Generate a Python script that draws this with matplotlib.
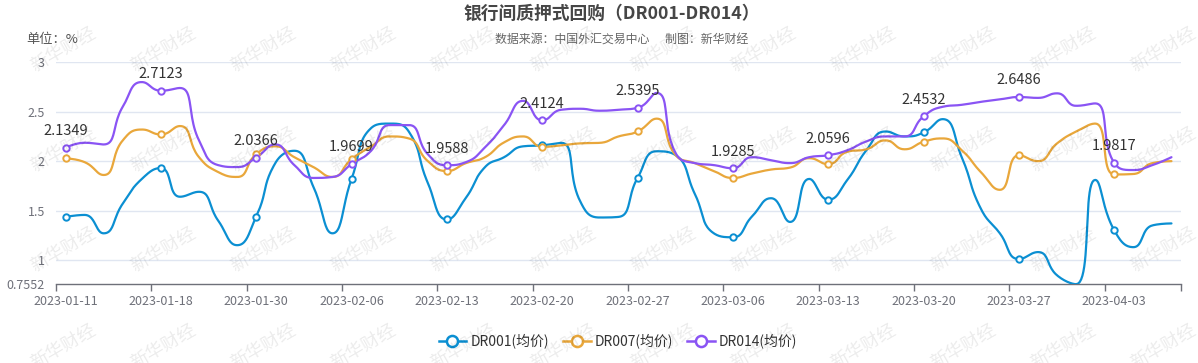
import numpy as np
import matplotlib
matplotlib.use('Agg')
import matplotlib.pyplot as plt
from matplotlib.lines import Line2D

plt.rcParams['font.family'] = ['Noto Sans CJK SC', 'DejaVu Sans']

dates = ['2023-01-11', '2023-01-12', '2023-01-13', '2023-01-16', '2023-01-17',
         '2023-01-18', '2023-01-19', '2023-01-20', '2023-01-28', '2023-01-29',
         '2023-01-30', '2023-01-31', '2023-02-01', '2023-02-02', '2023-02-03',
         '2023-02-06', '2023-02-07', '2023-02-08', '2023-02-09', '2023-02-10',
         '2023-02-13', '2023-02-14', '2023-02-15', '2023-02-16', '2023-02-17',
         '2023-02-20', '2023-02-21', '2023-02-22', '2023-02-23', '2023-02-24',
         '2023-02-27', '2023-02-28', '2023-03-01', '2023-03-02', '2023-03-03',
         '2023-03-06', '2023-03-07', '2023-03-08', '2023-03-09', '2023-03-10',
         '2023-03-13', '2023-03-14', '2023-03-15', '2023-03-16', '2023-03-17',
         '2023-03-20', '2023-03-21', '2023-03-22', '2023-03-23', '2023-03-24',
         '2023-03-27', '2023-03-28', '2023-03-29', '2023-03-30', '2023-03-31',
         '2023-04-03', '2023-04-04', '2023-04-06', '2023-04-07']

dr001 = [1.436, 1.456, 1.27, 1.57, 1.82, 1.93, 1.64, 1.69, 1.40, 1.15,
         1.44, 1.98, 2.105, 1.74, 1.27, 1.82, 2.33, 2.38, 2.30, 1.78,
         1.41, 1.63, 1.94, 2.04, 2.15, 2.16, 2.185, 1.59, 1.43, 1.436,
         1.83, 2.10, 2.06, 1.67, 1.27, 1.23, 1.44, 1.625, 1.385, 1.82,
         1.61, 1.81, 2.11, 2.30, 2.25, 2.29, 2.425, 2.04, 1.52, 1.27,
         1.01, 1.08, 0.845, 0.7552, 1.81, 1.30, 1.13, 1.35, 1.37]

dr007 = [2.027, 1.99, 1.86, 2.21, 2.32, 2.27, 2.355, 2.04, 1.89, 1.84,
         2.07, 2.15, 2.04, 1.94, 1.84, 2.02, 2.145, 2.25, 2.23, 2.00,
         1.90, 1.98, 2.04, 2.19, 2.25, 2.145, 2.16, 2.18, 2.185, 2.25,
         2.30, 2.43, 2.06, 1.98, 1.90, 1.83, 1.875, 1.915, 1.935, 2.03,
         1.97, 2.095, 2.12, 2.21, 2.12, 2.196, 2.23, 2.11, 1.89, 1.71,
         2.06, 2.00, 2.18, 2.30, 2.38, 1.865, 1.87, 1.98, 2.00]

dr014 = [2.1349, 2.186, 2.169, 2.55, 2.80, 2.7123, 2.74, 2.21, 1.96, 1.94,
         2.0366, 2.169, 1.96, 1.83, 1.84, 1.9699, 2.10, 2.365, 2.365, 2.07,
         1.9588, 1.99, 2.14, 2.365, 2.61, 2.4124, 2.52, 2.53, 2.51, 2.52,
         2.5395, 2.69, 2.08, 1.98, 1.96, 1.9285, 2.04, 2.01, 1.98, 2.04,
         2.0596, 2.11, 2.20, 2.25, 2.25, 2.4532, 2.55, 2.57, 2.60, 2.625,
         2.6486, 2.64, 2.686, 2.56, 2.584, 1.9817, 1.91, 1.96, 2.04]

series_names = ['DR001(均价)', 'DR007(均价)', 'DR014(均价)']
colors = ['#0b8fd2', '#e9a73b', '#8a54f4']

W, H = 1198, 363
PX_X = 19.05   # px per category
PX_Y = 98.8    # px per unit


def smooth_curve(xs, ys, smooth=0.5, n=24):
    # echarts-like smooth line, computed in pixel space
    px = [x * PX_X for x in xs]
    py = [y * PX_Y for y in ys]
    out_x, out_y = [px[0]], [py[0]]
    cpx0, cpy0 = px[0], py[0]
    N = len(px)
    for i in range(1, N):
        x, y = px[i], py[i]
        prevX, prevY = px[i - 1], py[i - 1]
        if i == N - 1:
            cpx1, cpy1 = x, y
            ncx, ncy = x, y
        else:
            nextX, nextY = px[i + 1], py[i + 1]
            vx, vy = nextX - prevX, nextY - prevY
            lp = np.hypot(x - prevX, y - prevY)
            ln = np.hypot(nextX - x, nextY - y)
            r = ln / (ln + lp)
            ncx = x + vx * smooth * r
            ncy = y + vy * smooth * r
            ncx = min(ncx, max(nextX, x)); ncx = max(ncx, min(nextX, x))
            ncy = min(ncy, max(nextY, y)); ncy = max(ncy, min(nextY, y))
            vx, vy = ncx - x, ncy - y
            cpx1 = x - vx * lp / ln
            cpy1 = y - vy * lp / ln
            cpx1 = min(cpx1, max(prevX, x)); cpx1 = max(cpx1, min(prevX, x))
            cpy1 = min(cpy1, max(prevY, y)); cpy1 = max(cpy1, min(prevY, y))
            vx, vy = x - cpx1, y - cpy1
            ncx = x + vx * ln / lp
            ncy = y + vy * ln / lp
        t = np.linspace(0, 1, n)[1:]
        bx = (1 - t) ** 3 * prevX + 3 * (1 - t) ** 2 * t * cpx0 + 3 * (1 - t) * t ** 2 * cpx1 + t ** 3 * x
        by = (1 - t) ** 3 * prevY + 3 * (1 - t) ** 2 * t * cpy0 + 3 * (1 - t) * t ** 2 * cpy1 + t ** 3 * y
        out_x.extend(bx); out_y.extend(by)
        cpx0, cpy0 = ncx, ncy
    return np.array(out_x) / PX_X, np.array(out_y) / PX_Y


fig = plt.figure(figsize=(W / 100, H / 100), dpi=100)
ax = fig.add_axes([56 / W, 1 - 284.2 / H, (1181 - 56) / W, (284.2 - 62.3) / H])

idx = np.arange(len(dates))
mark_idx = idx[::5]
for vals, color in zip([dr001, dr007, dr014], colors):
    sx, sy = smooth_curve(idx, vals)
    ax.plot(sx, sy, color=color, lw=1.6, zorder=3, solid_capstyle='round')
    ax.plot(mark_idx, np.array(vals)[mark_idx], ls='none', marker='o', ms=4.6,
            mfc='white', mec=color, mew=1.4, zorder=4)

for i in mark_idx:
    ax.annotate(f'{dr014[i]:.4f}', (i, dr014[i]), xytext=(0, 12), textcoords='offset points',
                ha='center', va='center', fontsize=10.5, color='#333333', zorder=5)

ax.set_xlim(-0.5, len(dates) - 0.5)
ax.set_ylim(0.7552, 3)
ax.set_yticks([0.7552, 1, 1.5, 2, 2.5, 3])
ax.set_yticklabels(['0.7552', '1', '1.5', '2', '2.5', '3'])
for v in [1, 1.5, 2, 2.5, 3]:
    ax.axhline(v, color='#e0e6f1', lw=1, zorder=1)

bounds = list(np.arange(-0.5, len(dates), 5)) + [len(dates) - 0.5]
ax.set_xticks(bounds)
ax.set_xticklabels([])
ax.set_xticks(mark_idx, minor=True)
ax.set_xticklabels([dates[i] for i in mark_idx], minor=True)
ax.tick_params(axis='x', which='major', length=5, width=1, color='#6e7079', direction='out')
ax.tick_params(axis='x', which='minor', length=0, pad=8, labelsize=9, labelcolor='#6e7079')
ax.tick_params(axis='y', length=0, pad=8, labelsize=9, labelcolor='#6e7079')

for s in ['top', 'right', 'left']:
    ax.spines[s].set_visible(False)
ax.spines['bottom'].set_color('#6e7079')
ax.spines['bottom'].set_linewidth(1)

fig.text(612 / W, 1 - 14 / H, '银行间质押式回购（DR001-DR014）', ha='center', va='center',
         fontsize=12.8, fontweight='bold', color='#464646')
fig.text(622 / W, 1 - 40 / H, '数据来源：中国外汇交易中心      制图：新华财经', ha='center', va='center',
         fontsize=8.6, color='#666666')
fig.text(26 / W, 1 - 40 / H, '单位：%', ha='left', va='center', fontsize=9.5, color='#555555')

handles = [Line2D([], [], color=c, lw=1.8, marker='o', ms=8, mfc='white', mec=c, mew=1.8)
           for c in colors]
fig.legend(handles, series_names, loc='center', bbox_to_anchor=(618 / W, 1 - 341 / H), ncol=3,
           frameon=False, fontsize=10, handlelength=2.0, handletextpad=0.3, columnspacing=1.0,
           labelcolor='#333333')

# watermark
for wy in [50, 150, 250, 347]:
    for k in range(0, 12):
        fig.text((63 + 100 * k) / W, 1 - wy / H, '新华财经', ha='center', va='center',
                 rotation=30, fontsize=13, color='#000000', alpha=0.08, zorder=10)

fig.savefig('out.png', dpi=100)
